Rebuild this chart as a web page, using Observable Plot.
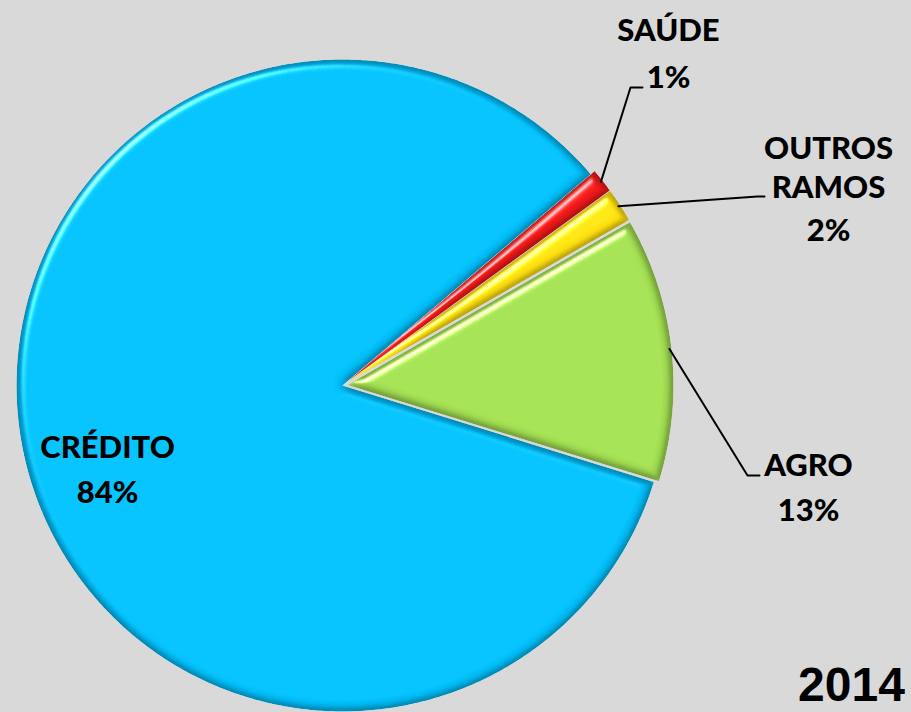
<!DOCTYPE html>
<html><head><meta charset="utf-8">
<script src="https://cdn.jsdelivr.net/npm/d3@7"></script>
<script src="https://cdn.jsdelivr.net/npm/@observablehq/plot@0.6"></script>
<style>
html,body{margin:0;padding:0;background:#d9d9d9;}
#chart{width:911px;height:712px;overflow:hidden;}
</style>
</head><body><div id="chart"></div>
<script>
// ---- data ----
const categories = ["CRÉDITO", "SAÚDE", "OUTROS RAMOS", "AGRO"];
const shares = [84.0, 1.2, 1.7, 13.1];
const nameLines = [["CRÉDITO"], ["SAÚDE"], ["OUTROS", "RAMOS"], ["AGRO"]];
const percentLabels = ["84%", "1%", "2%", "13%"];
const yearLabel = "2014";

// ---- layout / style ----
const W = 911, H = 712;
const cx = 342, cy = 385, R = 326;
const explode = 5;
const colors = ["#00bdf8", "#f01818", "#ffe010", "#a0dc50"];
const startDeg = 49.6; // clockwise from 12 o'clock
const order = [1, 2, 3, 0];
const fs = 31;
const labelPos = [
  {x: 107, base: [457], pct: 502},
  {x: 668, base: [40], pct: 87},
  {x: 828, base: [158, 197], pct: 240},
  {x: 808, base: [475], pct: 520}
];
const elbows = [null, [[630, 87], [642, 87]], [[757, 196], [764, 196]], [[747, 475], [759, 475]]];

const pie = d3.pie().sort(null).value(i => shares[i])
  .startAngle(startDeg * Math.PI / 180).endAngle(startDeg * Math.PI / 180 + 2 * Math.PI);
const arcs = pie(order);

const sliceRows = [];
const leaderRows = [];
arcs.forEach(a => {
  const i = a.data;
  const mid = (a.startAngle + a.endAngle) / 2;
  const off = i === 0 ? 0 : explode;
  const ox = cx + off * Math.sin(mid), oy = cy - off * Math.cos(mid);
  sliceRows.push({cat: categories[i], x: ox, y: oy});
  const n = Math.max(4, Math.ceil((a.endAngle - a.startAngle) / (Math.PI / 360)));
  for (let k = 0; k <= n; k++) {
    const t = a.startAngle + (a.endAngle - a.startAngle) * k / n;
    sliceRows.push({cat: categories[i], x: ox + R * Math.sin(t), y: oy - R * Math.cos(t)});
  }
  sliceRows.push({cat: categories[i], x: ox, y: oy});
  if (elbows[i]) {
    leaderRows.push({cat: categories[i], x: ox + (R - 2) * Math.sin(mid), y: oy - (R - 2) * Math.cos(mid)});
    elbows[i].forEach(p => leaderRows.push({cat: categories[i], x: p[0], y: p[1]}));
  }
});

const nameRows = [], pctRows = [];
categories.forEach((c, i) => {
  nameLines[i].forEach((t, j) => nameRows.push({text: t, x: labelPos[i].x, y: labelPos[i].base[j] - 0.32 * fs}));
  pctRows.push({text: percentLabels[i], x: labelPos[i].x, y: labelPos[i].pct - 0.32 * fs});
});

const yfs = 48;
const plot = Plot.plot({
  width: W, height: H,
  margin: 0,
  x: {domain: [0, W], range: [0, W], axis: null},
  y: {domain: [0, H], range: [0, H], axis: null},
  color: {domain: categories, range: colors, type: "ordinal"},
  style: {background: "#d9d9d9", overflow: "visible"},
  marks: [
    Plot.line(sliceRows, {x: "x", y: "y", z: "cat", fill: "cat", stroke: null, curve: "linear"}),
    Plot.line(leaderRows, {x: "x", y: "y", z: "cat", stroke: "#000", strokeWidth: 2, fill: "none"}),
    Plot.text(nameRows, {x: "x", y: "y", text: "text", fontSize: fs, fontWeight: 900, fontFamily: "Lato", fill: "#000", textAnchor: "middle"}),
    Plot.text(pctRows, {x: "x", y: "y", text: "text", fontSize: fs, fontWeight: 900, fontFamily: "Lato", fill: "#000", textAnchor: "middle"}),
    Plot.text([yearLabel], {x: () => 851, y: () => 700 - 0.32 * yfs, text: d => d, fontSize: yfs, fontWeight: "bold", fontFamily: "Liberation Sans, Arial", fill: "#000", textAnchor: "middle"})
  ]
});

// bevel filter
const ns = "http://www.w3.org/2000/svg";
const defs = document.createElementNS(ns, "defs");
defs.innerHTML = `
<filter id="bevel" x="-5%" y="-5%" width="110%" height="110%" color-interpolation-filters="sRGB">
  <feGaussianBlur in="SourceAlpha" stdDeviation="4" result="blur"/>
  <feDiffuseLighting in="blur" surfaceScale="5" diffuseConstant="1" lighting-color="#ffffff" result="diff">
    <feDistantLight azimuth="225" elevation="90"/>
  </feDiffuseLighting>
  <feComposite in="SourceGraphic" in2="diff" operator="arithmetic" k1="1" k2="0" k3="0" k4="0" result="shaded"/>
  <feSpecularLighting in="blur" surfaceScale="5" specularConstant="1" specularExponent="40" lighting-color="#ffffff" result="spec">
    <feDistantLight azimuth="225" elevation="45"/>
  </feSpecularLighting>
  <feComposite in="spec" in2="SourceAlpha" operator="in" result="specIn"/>
  <feComposite in="shaded" in2="specIn" operator="arithmetic" k1="0" k2="1" k3="0.7" k4="0" result="lit"/>
  <feComposite in="lit" in2="SourceAlpha" operator="in"/>
</filter>`;
plot.insertBefore(defs, plot.firstChild);
const lineGroups = plot.querySelectorAll('g[aria-label="line"]');
lineGroups[0].querySelectorAll("path").forEach(p => {
  p.setAttribute("filter", "url(#bevel)");
});
document.getElementById("chart").appendChild(plot);
</script>
</body></html>
